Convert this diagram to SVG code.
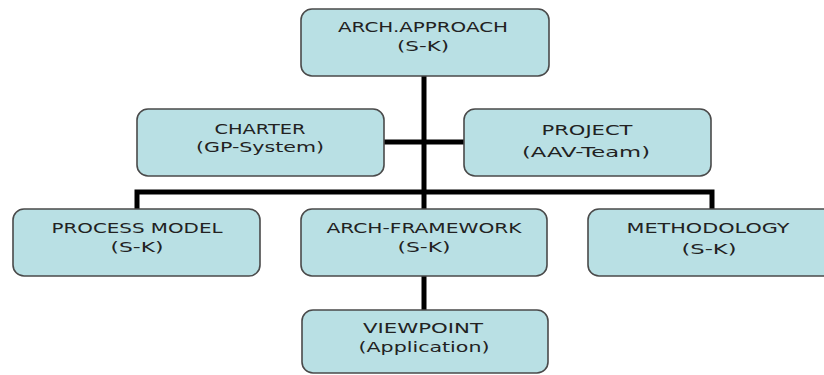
<svg xmlns="http://www.w3.org/2000/svg" width="824" height="375" viewBox="0 0 824 375">
<style>
.box{fill:#b9e0e4;stroke:#4a4a4a;stroke-width:1.6}
.t{font-family:"DejaVu Sans",Verdana,sans-serif;font-size:14px;fill:#222;text-anchor:middle}
.c{stroke:#000;stroke-width:5;fill:none}
</style>
<rect width="824" height="375" fill="#fff"/>
<g id="connectors">
<path class="c" d="M424 76V209M384 142H464M137 211V192H712V211M424 276V311"/>
</g>
<g id="arch-approach">
<rect class="box" x="301" y="9" width="248" height="67" rx="11"/>
<text class="t" x="423" y="32" textLength="170" lengthAdjust="spacingAndGlyphs">ARCH.APPROACH</text>
<text class="t" x="423" y="51" textLength="52" lengthAdjust="spacingAndGlyphs">(S-K)</text>
</g>
<g id="charter">
<rect class="box" x="137" y="109" width="247" height="67" rx="11"/>
<text class="t" x="260" y="134" textLength="91" lengthAdjust="spacingAndGlyphs">CHARTER</text>
<text class="t" x="260" y="152" textLength="128" lengthAdjust="spacingAndGlyphs">(GP-System)</text>
</g>
<g id="project">
<rect class="box" x="464" y="109" width="247" height="67" rx="11"/>
<text class="t" x="587" y="135" textLength="91" lengthAdjust="spacingAndGlyphs">PROJECT</text>
<text class="t" x="586" y="157" textLength="128" lengthAdjust="spacingAndGlyphs">(AAV-Team)</text>
</g>
<g id="process-model">
<rect class="box" x="13" y="209" width="247" height="67" rx="11"/>
<text class="t" x="137" y="233" textLength="171" lengthAdjust="spacingAndGlyphs">PROCESS MODEL</text>
<text class="t" x="137" y="252" textLength="53" lengthAdjust="spacingAndGlyphs">(S-K)</text>
</g>
<g id="arch-framework">
<rect class="box" x="301" y="209" width="246" height="67" rx="11"/>
<text class="t" x="424" y="233" textLength="195" lengthAdjust="spacingAndGlyphs">ARCH-FRAMEWORK</text>
<text class="t" x="424" y="252" textLength="53" lengthAdjust="spacingAndGlyphs">(S-K)</text>
</g>
<g id="methodology">
<rect class="box" x="588" y="209" width="250" height="67" rx="11"/>
<text class="t" x="708" y="233" textLength="163" lengthAdjust="spacingAndGlyphs">METHODOLOGY</text>
<text class="t" x="709" y="254" textLength="55" lengthAdjust="spacingAndGlyphs">(S-K)</text>
</g>
<g id="viewpoint">
<rect class="box" x="302" y="310" width="246" height="63" rx="11"/>
<text class="t" x="423" y="333" textLength="120" lengthAdjust="spacingAndGlyphs">VIEWPOINT</text>
<text class="t" x="424" y="352" textLength="131" lengthAdjust="spacingAndGlyphs">(Application)</text>
</g>
</svg>
